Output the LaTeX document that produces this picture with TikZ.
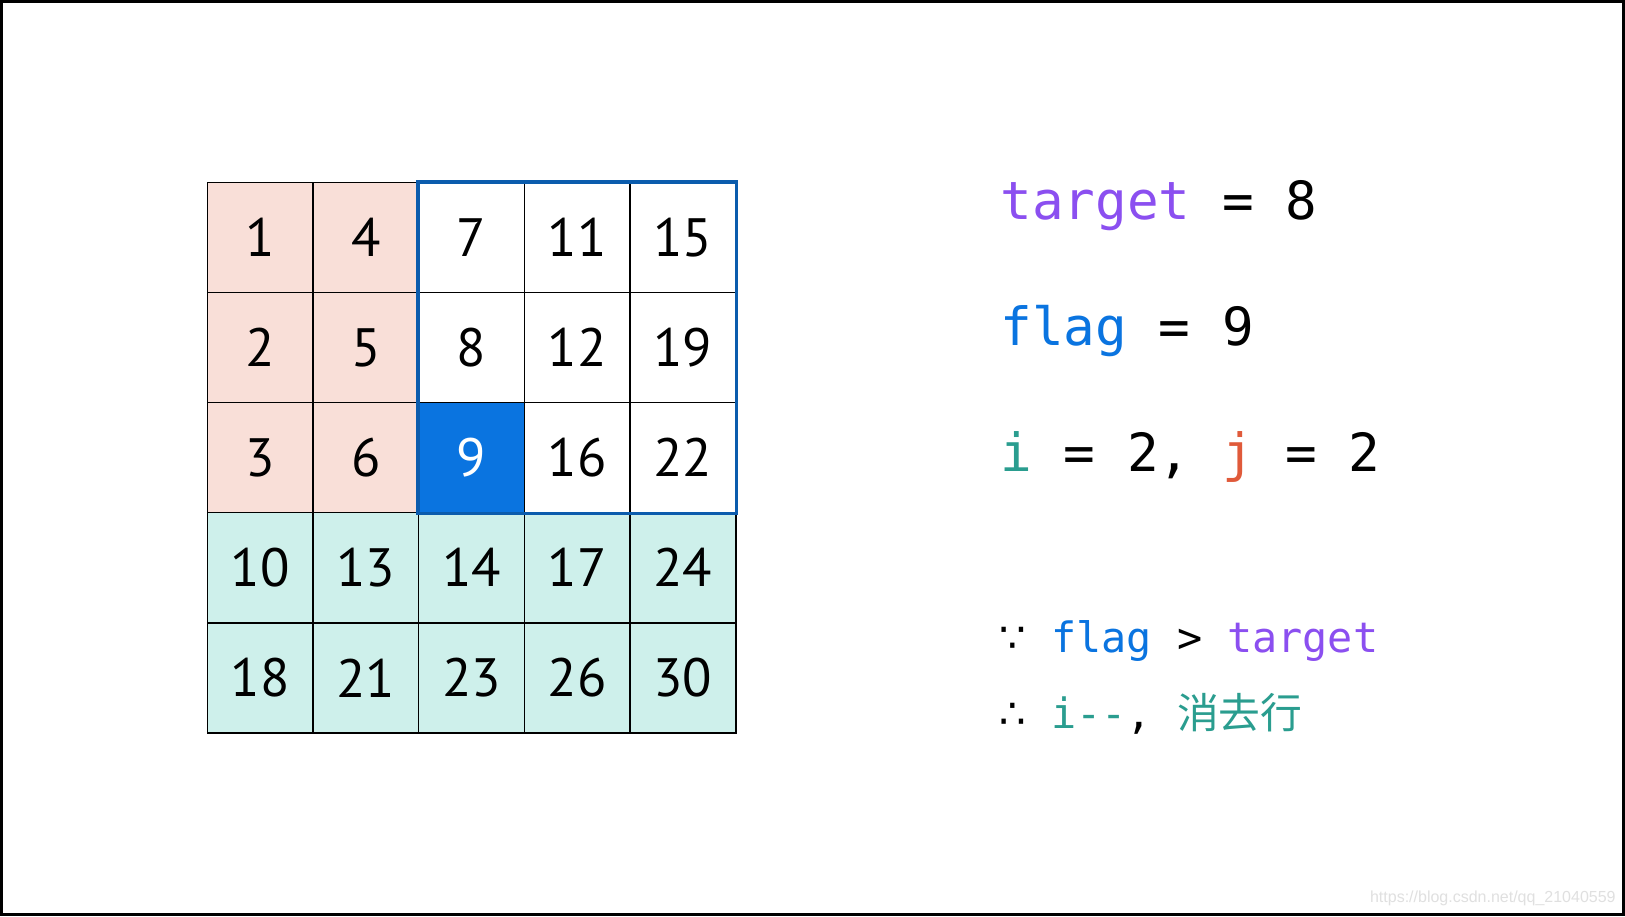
\documentclass[tikz,border=0pt]{standalone}
\usepackage{fontspec}
\setmonofont{DejaVu Sans Mono}
\newfontfamily\numfont{PT Sans}
\newfontfamily\cjk{Noto Sans CJK SC}
\newfontfamily\symf{DejaVu Sans}
\newfontfamily\wmfont{Liberation Sans}
\definecolor{pinkc}{HTML}{F9DFD8}
\definecolor{tealc}{HTML}{CEF0EB}
\definecolor{bluec}{HTML}{0A74E0}
\definecolor{frameblue}{HTML}{0B5CAD}
\definecolor{purplec}{HTML}{8B4FF0}
\definecolor{greenc}{HTML}{2A9D8F}
\definecolor{redc}{HTML}{E05A3A}
\tikzset{
  cell/.style={draw=black, line width=0.75pt, minimum width=52.85pt, minimum height=55.05pt,
    inner sep=0pt, font=\numfont\fontsize{27}{30}\selectfont},
  pinkcell/.style={cell, fill=pinkc},
  tealcell/.style={cell, fill=tealc},
  whitecell/.style={cell, fill=white},
  hotcell/.style={cell, fill=bluec, text=white},
  bigcode/.style={anchor=base west, inner sep=0pt, font=\ttfamily\fontsize{26.3}{30}\selectfont},
  smallcode/.style={anchor=base west, inner sep=0pt, font=\ttfamily\fontsize{20.9}{25}\selectfont},
}
\begin{document}
\begin{tikzpicture}[x=0.5pt, y=-0.5pt]
\useasboundingbox (0,0) rectangle (1625,916);
\fill[white] (0,0) rectangle (1625,916);
\draw[line width=1.5pt] (1.5,1.5) rectangle (1623.5,914.5);
% grid
\foreach \r/\row in {0/{1,4,7,11,15},1/{2,5,8,12,19},2/{3,6,9,16,22},3/{10,13,14,17,24},4/{18,21,23,26,30}}{
  \foreach \v [count=\c from 0] in \row {
    \pgfmathtruncatemacro{\kind}{\r>=3 ? 1 : (\c<=1 ? 2 : ((\r==2 && \c==2) ? 3 : 4))}
    \ifcase\kind\or
      \node[tealcell] (c-\r-\c) at ({260.15+105.7*\c},{237.45+110.1*\r}) {\v};
    \or
      \node[pinkcell] (c-\r-\c) at ({260.15+105.7*\c},{237.45+110.1*\r}) {\v};
    \or
      \node[hotcell] (c-\r-\c) at ({260.15+105.7*\c},{237.45+110.1*\r}) {\v};
    \or
      \node[whitecell] (c-\r-\c) at ({260.15+105.7*\c},{237.45+110.1*\r}) {\v};
    \fi
  }
}
\draw[frameblue, line width=1.9pt] (c-0-2.north west) rectangle (c-2-4.south east);
% texts
\node[bigcode] (t1) at (1000,219.7) {\textcolor{purplec}{target} = 8};
\node[bigcode] (t2) at (1000,345.1) {\textcolor{bluec}{flag} = 9};
\node[bigcode] (t3) at (1000,471.6) {\textcolor{greenc}{i} = 2, \textcolor{redc}{j} = 2};
\node[smallcode] (t4) at (999,652.5) {{\symf ∵} \textcolor{bluec}{flag} > \textcolor{purplec}{target}};
\node[smallcode] (t5) at (999,728) {{\symf ∴} \textcolor{greenc}{i-{}-}, \textcolor{greenc}{\cjk 消去行}};
\node[anchor=base east, inner sep=0pt, text=black!12, font=\wmfont\fontsize{8}{9}\selectfont] (wm) at (1616,902) {https://blog.csdn.net/qq\_21040559};
\end{tikzpicture}
\end{document}
